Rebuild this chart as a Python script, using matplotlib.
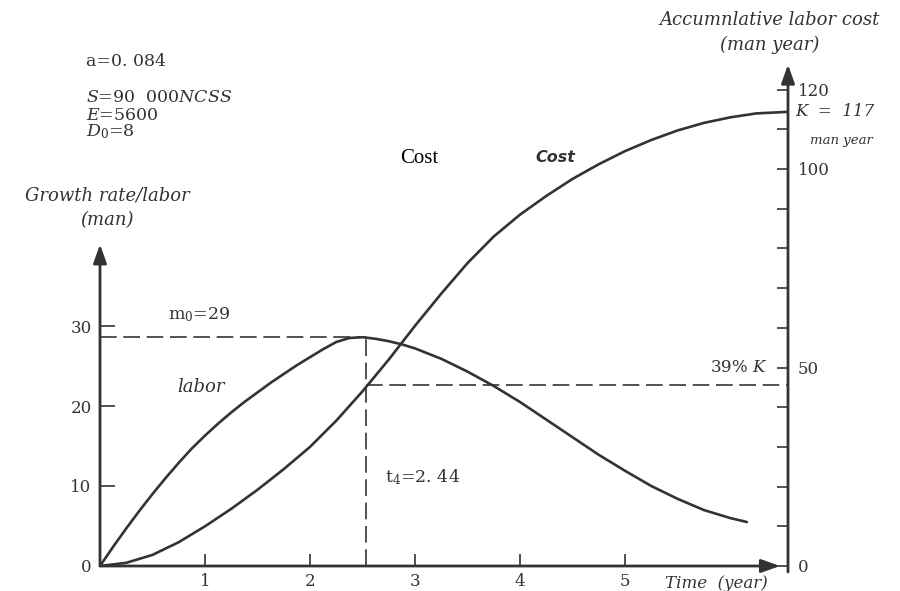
import matplotlib
matplotlib.use("Agg")
import matplotlib.pyplot as plt

# labor (growth rate, man)
labor_t = [0, 0.125, 0.25, 0.375, 0.5, 0.625, 0.75, 0.875, 1.0, 1.125, 1.25, 1.375,
           1.5, 1.625, 1.75, 1.875, 2.0, 2.125, 2.25, 2.375, 2.5, 2.625, 2.75,
           2.875, 3.0, 3.25, 3.5, 3.75, 4.0, 4.25, 4.5, 4.75, 5.0, 5.25, 5.5,
           5.75, 6.0, 6.16]
labor = [0, 2.4, 4.7, 6.9, 9.0, 11.0, 12.9, 14.7, 16.3, 17.8, 19.2, 20.5,
         21.7, 22.9, 24.0, 25.1, 26.1, 27.1, 28.0, 28.5, 28.6, 28.4, 28.1,
         27.7, 27.2, 25.9, 24.3, 22.5, 20.5, 18.3, 16.1, 13.9, 11.9, 10.0, 8.4,
         7.0, 6.0, 5.5]

# accumulated cost (man year)
cost_t = [0, 0.25, 0.5, 0.75, 1.0, 1.25, 1.5, 1.75, 2.0, 2.25, 2.5, 2.75, 3.0,
          3.25, 3.5, 3.75, 4.0, 4.25, 4.5, 4.75, 5.0, 5.25, 5.5, 5.75, 6.0,
          6.25, 6.55]
cost = [0, 0.8, 2.8, 6.0, 10.0, 14.4, 19.2, 24.4, 30.0, 36.6, 44.0, 52.0, 60.5,
        68.6, 76.3, 83.0, 88.5, 93.2, 97.5, 101.2, 104.5, 107.3, 109.7, 111.6,
        113.0, 114.0, 114.4]

m0 = 28.6        # peak labor
td = 2.53        # peak time marker
k39 = 45.6       # 39% of K
x_ticks = [1, 2, 3, 4, 5]
left_ticks = [0, 10, 20, 30]
right_ticks = list(range(0, 130, 10))
right_labels = {0: "0", 50: "50", 100: "100", 120: "120"}

INK = "#333333"
plt.rcParams["font.family"] = ["DejaVu Serif"]
plt.rcParams["mathtext.fontset"] = "dejavuserif"

W, H = 900, 591
fig = plt.figure(figsize=(9, 5.91), dpi=100)
ax = fig.add_axes([100 / W, 1 - 566 / H, 688 / W, 506 / H])
ax2 = ax.twinx()

ax.set_xlim(0, 688 / 105)
ax.set_ylim(0, 506 / 8)
ax2.set_ylim(0, 506 / 3.97)

for a in (ax, ax2):
    for s in a.spines.values():
        s.set_visible(False)
    a.patch.set_visible(False)

ax.plot(labor_t, labor, color=INK, lw=1.9, solid_capstyle="round", solid_joinstyle="round")
ax2.plot(cost_t, cost, color=INK, lw=1.9, solid_capstyle="round", solid_joinstyle="round")

dash = (0, (10, 4))
ax.plot([0, td], [m0, m0], color=INK, lw=1.2, ls=dash)
ax.plot([td, td], [0, m0], color=INK, lw=1.2, ls=dash)
ax2.plot([td, 688 / 105], [k39, k39], color=INK, lw=1.2, ls=dash)

# axis lines with arrow heads
arrow = dict(arrowstyle="-|>,head_length=0.7,head_width=0.25", color=INK, lw=2,
             mutation_scale=16, shrinkA=0, shrinkB=0)
ax.annotate("", xy=(0, 40.2), xytext=(0, 0), arrowprops=arrow)
ax.annotate("", xy=(680 / 105, 0), xytext=(0, 0), arrowprops=arrow)
ax2.annotate("", xy=(688 / 105, 126.3), xytext=(688 / 105, -1.5), arrowprops=arrow)

ax.set_xticks(x_ticks)
ax.set_xticklabels([str(v) for v in x_ticks])
ax.set_yticks(left_ticks)
ax.set_yticklabels([str(v) for v in left_ticks])
ax2.set_yticks(right_ticks)
ax2.set_yticklabels([right_labels.get(v, "") for v in right_ticks])

ax.tick_params(axis="x", direction="in", length=9, width=1.2, color=INK,
               labelsize=12, labelcolor=INK, pad=5)
ax.tick_params(axis="y", direction="in", length=11, width=1.2, color=INK,
               labelsize=12, labelcolor=INK, pad=6)
ax2.tick_params(axis="y", direction="in", length=8, width=1.2, color=INK,
                labelsize=12, labelcolor=INK, pad=7)


def px_text(x, y, s, **kw):
    kw.setdefault("color", INK)
    kw.setdefault("va", "center")
    kw.setdefault("fontsize", 12)
    fig.text(x / W, 1 - y / H, s, **kw)


px_text(86, 62, "a=0. 084", fontsize=12.5)
px_text(86, 97, "$S$=90  000$NCSS$", fontsize=12.5)
px_text(86, 115, "$E$=5600", fontsize=12.5)
px_text(86, 132, r"$D_\mathrm{0}$=8", fontsize=12.5)

px_text(107, 195, "Growth rate/labor", ha="center", style="italic", fontsize=13)
px_text(107, 220, "(man)", ha="center", style="italic", fontsize=13)

px_text(770, 20, "Accumnlative labor cost", ha="center", style="italic", fontsize=13)
px_text(770, 45, "(man year)", ha="center", style="italic", fontsize=13)
px_text(795, 112, "K  =  117", style="italic", fontsize=12)
px_text(810, 141, "man year", style="italic", fontsize=9.5)

px_text(400, 158, "Cost", family="Liberation Serif", fontsize=15, color="black")
px_text(535, 157, "Cost", family="DejaVu Sans", style="italic", weight="bold", fontsize=11.5)

px_text(168, 315, r"m$_\mathrm{0}$=29", fontsize=12.5)
px_text(177, 387, "labor", style="italic", fontsize=13)
px_text(385, 477, r"t$_4$=2. 44", fontsize=12.5)
px_text(767, 367, "39% $K$", ha="right", fontsize=12)
px_text(665, 583, "Time  (year)", style="italic", fontsize=12)

fig.savefig("out.png", dpi=100, facecolor="white")
